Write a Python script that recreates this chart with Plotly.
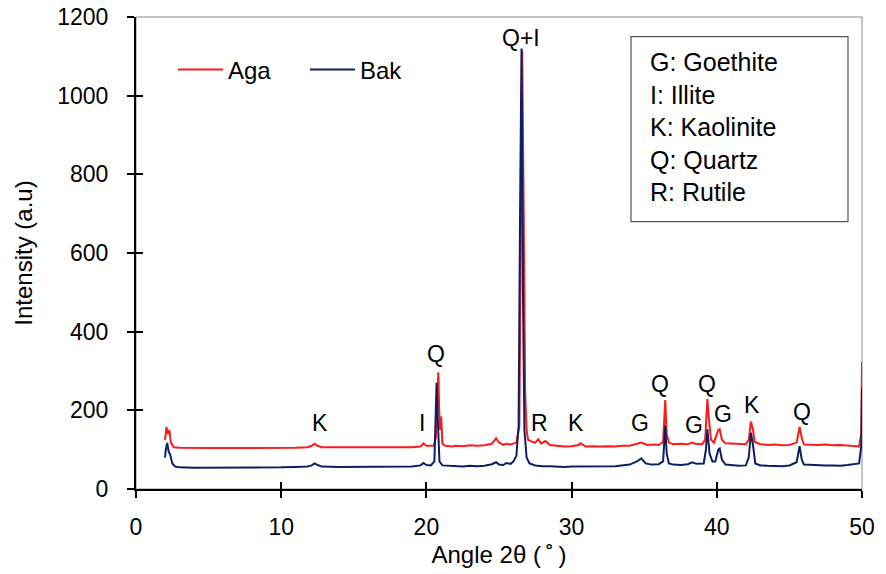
import plotly.graph_objects as go

# ---- data ----
aga_x = [2.0, 2.1, 2.2, 2.3, 2.4, 2.6, 3.0, 4.0, 5.0, 6.0, 7.0, 7.5, 8.0, 9.0, 10.0, 11.0, 11.8, 12.1, 12.3, 12.5, 12.8,
         13.5, 14.0, 15.0, 16.0, 17.0, 18.0, 19.0, 19.6, 19.8, 20.0, 20.3, 20.5, 20.65, 20.75, 20.82, 20.88, 20.95,
         21.02, 21.1, 21.3, 21.8, 22.0, 22.5, 23.0, 23.5, 24.0, 24.5, 24.8, 25.0, 25.3, 25.5, 25.8, 26.2, 26.4, 26.5,
         26.6, 26.7, 26.8, 26.9, 27.0, 27.3, 27.5, 27.7, 27.9, 28.2, 28.5, 29.0, 29.5, 30.0, 30.5, 30.6, 31.0,
         31.5, 32.0, 32.5, 33.0, 33.5, 34.0, 34.8, 35.2, 35.7, 36.0, 36.3, 36.45, 36.55, 36.7, 37.0, 37.5, 38.0,
         38.3, 38.5, 39.0, 39.2, 39.35, 39.45, 39.6, 39.8, 40.1, 40.2, 40.35, 40.6, 41.0, 41.5, 42.0, 42.2, 42.35,
         42.5, 42.6, 43.0, 43.5, 44.0, 44.5, 45.0, 45.5, 45.7, 45.85, 46.0, 46.5, 47.0, 47.5, 48.0, 48.5, 49.0,
         49.8, 49.95, 50.0]
aga_y = [125, 158, 140, 150, 118, 106, 105, 104, 104, 104, 103, 104, 104, 104, 104, 105, 106, 110, 115, 110, 106,
         106, 105, 105, 105, 105, 106, 106, 108, 116, 110, 109, 110, 130, 240, 297, 200, 150,
         184, 115, 110, 108, 110, 109, 111, 110, 111, 115, 129, 118, 112, 115, 113, 118, 160, 600,
         1115, 700, 250, 150, 125, 120, 118, 126, 116, 122, 112, 110, 108, 109, 112, 116, 108,
         109, 108, 109, 108, 110, 110, 118, 112, 113, 112, 120, 226, 140, 118, 114, 115, 114,
         118, 115, 114, 125, 229, 180, 125, 118, 150, 152, 125, 116, 115, 114, 114, 125, 171,
         150, 120, 114, 112, 113, 111, 112, 118, 158, 130, 113, 112, 112, 113, 111, 112, 110,
         108, 140, 323]

bak_x = [2.0, 2.05, 2.15, 2.25, 2.35, 2.5, 2.7, 3.0, 4.0, 5.0, 6.0, 7.0, 8.0, 9.0, 10.0, 11.0, 11.8, 12.1, 12.3,
         12.5, 12.8, 14.0, 16.0, 18.0, 19.0, 19.6, 19.8, 20.0, 20.3, 20.55, 20.7, 20.8, 20.9, 21.1, 22.0, 22.5,
         23.0, 23.5, 24.0, 24.5, 24.8, 25.0, 25.3, 25.5, 25.8, 26.0, 26.2, 26.35, 26.45, 26.55, 26.65, 26.75,
         26.9, 27.1, 27.5, 28.0, 28.5, 29.0, 29.5, 30.0, 31.0, 32.0, 33.0, 34.0, 34.5, 34.8, 35.1, 35.5, 36.0,
         36.3, 36.45, 36.55, 36.7, 37.0, 37.5, 38.0, 38.3, 38.6, 39.1, 39.25, 39.35, 39.5, 39.7, 39.9, 40.1,
         40.2, 40.35, 40.6, 41.0, 41.5, 42.0, 42.2, 42.35, 42.5, 42.65, 43.0, 43.5, 44.0, 44.5, 45.0, 45.5,
         45.7, 45.85, 46.0, 46.5, 47.0, 47.5, 48.0, 48.5, 49.0, 49.8, 49.95, 50.0]
bak_y = [80, 100, 117, 95, 88, 65, 57, 55, 54, 54, 54, 54, 54, 55, 55, 56, 57, 60, 65,
         61, 57, 56, 56, 56, 57, 60, 66, 61, 60, 70, 270, 160, 70, 60, 58, 57,
         59, 58, 59, 63, 68, 62, 61, 66, 64, 70, 85, 160, 700, 1120, 500, 150,
         80, 65, 60, 58, 58, 57, 56, 57, 57, 57, 58, 62, 70, 78, 65, 62, 63,
         70, 161, 90, 65, 62, 61, 63, 68, 64, 65, 100, 152, 90, 70, 70, 100,
         103, 75, 62, 60, 59, 60, 80, 143, 110, 65, 60, 59, 59, 58, 60, 68,
         109, 75, 62, 61, 61, 60, 60, 59, 61, 65, 110, 258]

peak_labels = ["K", "I", "Q", "Q+I", "R", "K", "G", "Q", "G", "Q", "G", "K", "Q"]
peak_label_x = [12.67, 19.7, 20.66, 26.5, 27.8, 30.3, 34.7, 36.1, 38.4, 39.3, 40.4, 42.4, 45.9]
peak_label_y = [168, 168, 343, 1147, 168, 168, 168, 267, 163, 267, 191, 214, 196]

key_lines = ["G: Goethite", "I: Illite", "K: Kaolinite", "Q: Quartz", "R: Rutile"]

x_ticks = [0, 10, 20, 30, 40, 50]
y_ticks = [0, 200, 400, 600, 800, 1000, 1200]

FONT = "Liberation Sans, Arial, sans-serif"
RED = "#FF1A1A"
NAVY = "#0D1F63"
NB = "\u00a0"
TH = "\u2009"

# full window figure (body margin removed in the page); plot area at x 136..862, y 17..489
W, H = 886, 574
L, R, T, B = 136, 24, 17, 85

fig = go.Figure()
fig.add_trace(go.Scatter(x=aga_x, y=aga_y, mode="lines", name="Aga",
                         line=dict(color=RED, width=2)))
fig.add_trace(go.Scatter(x=bak_x, y=bak_y, mode="lines", name="Bak",
                         line=dict(color=NAVY, width=2)))

for t, x, y in zip(peak_labels, peak_label_x, peak_label_y):
    fig.add_annotation(x=x, y=y, text=t, showarrow=False,
                       font=dict(family=FONT, size=23, color="black"))

PW, PH = W - L - R, H - T - B


def px(xw):
    return (xw - 136) / PW


def py(yw):
    return (489 - yw) / PH


fig.add_annotation(xref="paper", yref="paper", x=px(649), y=py(47),
                   xanchor="left", yanchor="top", align="left",
                   text="<br>".join(key_lines), showarrow=False,
                   font=dict(family=FONT, size=25, color="black"), borderpad=0)

# frame and key box
fig.add_shape(type="rect", xref="paper", yref="paper", x0=0, x1=1, y0=0, y1=1,
              line=dict(color="#8a8a8a", width=1), layer="below")
fig.add_shape(type="rect", xref="paper", yref="paper",
              x0=px(631), x1=px(848), y0=py(221.7), y1=py(36.7),
              line=dict(color="#555555", width=1.2))

axis_common = dict(showgrid=False, zeroline=False, showline=True, linecolor="black", linewidth=2,
                   ticks="outside", ticklen=7, tickwidth=2, tickcolor="black",
                   ticklabeloverflow="allow", automargin=False,
                   tickfont=dict(family=FONT, size=23, color="black"))

x_title = "Angle" + NB + "2θ" + NB + "(" + TH + "˚" + TH + ")"

fig.update_layout(
    width=W, height=H,
    margin=dict(l=L, r=R, t=T, b=B, autoexpand=False),
    paper_bgcolor="white", plot_bgcolor="white",
    font=dict(family=FONT, color="black"),
    showlegend=True,
    legend=dict(orientation="h", x=px(173), y=py(70), xanchor="left", yanchor="middle",
                font=dict(family=FONT, size=24, color="black"),
                bgcolor="rgba(0,0,0,0)", entrywidth=72, itemwidth=45),
    xaxis=dict(range=[0, 50], tickvals=x_ticks, ticklabelstandoff=9,
               title=dict(text=x_title, font=dict(family=FONT, size=24), standoff=8),
               **axis_common),
    yaxis=dict(range=[0, 1200], tickvals=y_ticks, ticklabelstandoff=14,
               title=dict(text="Intensity (a.u)", font=dict(family=FONT, size=24), standoff=18),
               **axis_common),
    xaxis2=dict(overlaying="x", matches="x", range=[0, 50], tickvals=x_ticks, showticklabels=False,
                showgrid=False, zeroline=False, showline=False, ticks="inside", ticklen=7,
                tickwidth=2, tickcolor="black", anchor="y"),
    yaxis2=dict(overlaying="y", matches="y", range=[0, 1200], tickvals=y_ticks, showticklabels=False,
                showgrid=False, zeroline=False, showline=False, ticks="inside", ticklen=7,
                tickwidth=2, tickcolor="black", anchor="x"),
)
fig.add_trace(go.Scatter(x=[None], y=[None], xaxis="x2", yaxis="y2", showlegend=False,
                         hoverinfo="skip"))

fig.write_html("out.html", config={"displayModeBar": False},
               post_script="document.body.style.margin='0';document.body.style.overflow='hidden';")
